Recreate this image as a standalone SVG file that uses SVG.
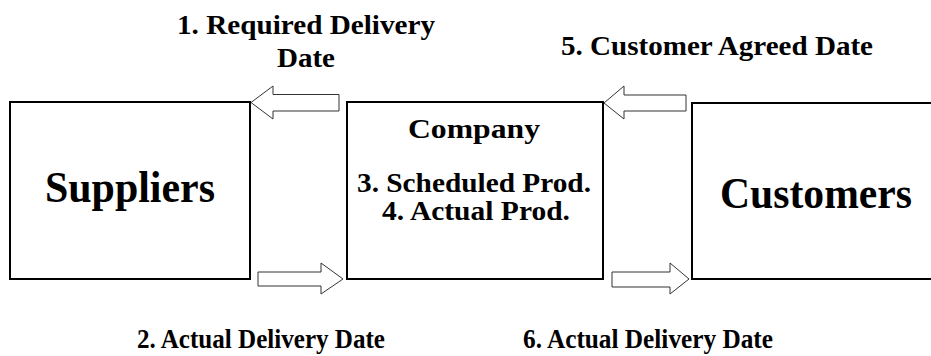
<svg xmlns="http://www.w3.org/2000/svg" width="931" height="356" viewBox="0 0 931 356">
<style>
.box{fill:#fff;stroke:#000;stroke-width:2}
.arr{fill:#fff;stroke:#333;stroke-width:1}
text{font-family:"Liberation Serif","Times New Roman",Times,serif;font-weight:bold;fill:#000;text-anchor:middle}
.lbl{font-size:28px}
.big{font-size:44px}
</style>
<rect width="931" height="356" fill="#fff"/>
<g id="suppliers">
<rect class="box" x="10" y="102" width="240" height="177"/>
<text class="big" x="130" y="202" textLength="170" lengthAdjust="spacingAndGlyphs">Suppliers</text>
</g>
<g id="company">
<rect class="box" x="347" y="102" width="256" height="177"/>
<text class="lbl" x="474" y="138" textLength="132" lengthAdjust="spacingAndGlyphs">Company</text>
<text class="lbl" x="474" y="192" textLength="234" lengthAdjust="spacingAndGlyphs">3. Scheduled Prod.</text>
<text class="lbl" x="476" y="220" textLength="188" lengthAdjust="spacingAndGlyphs">4. Actual Prod.</text>
</g>
<g id="customers">
<rect class="box" x="692" y="103" width="260" height="176"/>
<text class="big" x="816" y="208" textLength="192" lengthAdjust="spacingAndGlyphs">Customers</text>
</g>
<g id="connectors">
<path class="arr" d="M251,102.5 L273,86 L273,94.5 L339,94.5 L339,111 L273,111 L273,119 Z"/>
<path class="arr" d="M343,279 L321,263 L321,272 L258,272 L258,286 L321,286 L321,294 Z"/>
<path class="arr" d="M604,103 L624,86 L624,95 L686,95 L686,111 L624,111 L624,119 Z"/>
<path class="arr" d="M689,279 L670,263 L670,272 L612,272 L612,287 L670,287 L670,294 Z"/>
</g>
<g id="labels">
<text class="lbl" x="306" y="34" textLength="258" lengthAdjust="spacingAndGlyphs">1. Required Delivery</text>
<text class="lbl" x="306" y="67" textLength="58" lengthAdjust="spacingAndGlyphs">Date</text>
<text class="lbl" x="717" y="55" textLength="312" lengthAdjust="spacingAndGlyphs">5. Customer Agreed Date</text>
<text class="lbl" x="261" y="348" textLength="248" lengthAdjust="spacingAndGlyphs">2. Actual Delivery Date</text>
<text class="lbl" x="648" y="348" textLength="250" lengthAdjust="spacingAndGlyphs">6. Actual Delivery Date</text>
</g>
</svg>
